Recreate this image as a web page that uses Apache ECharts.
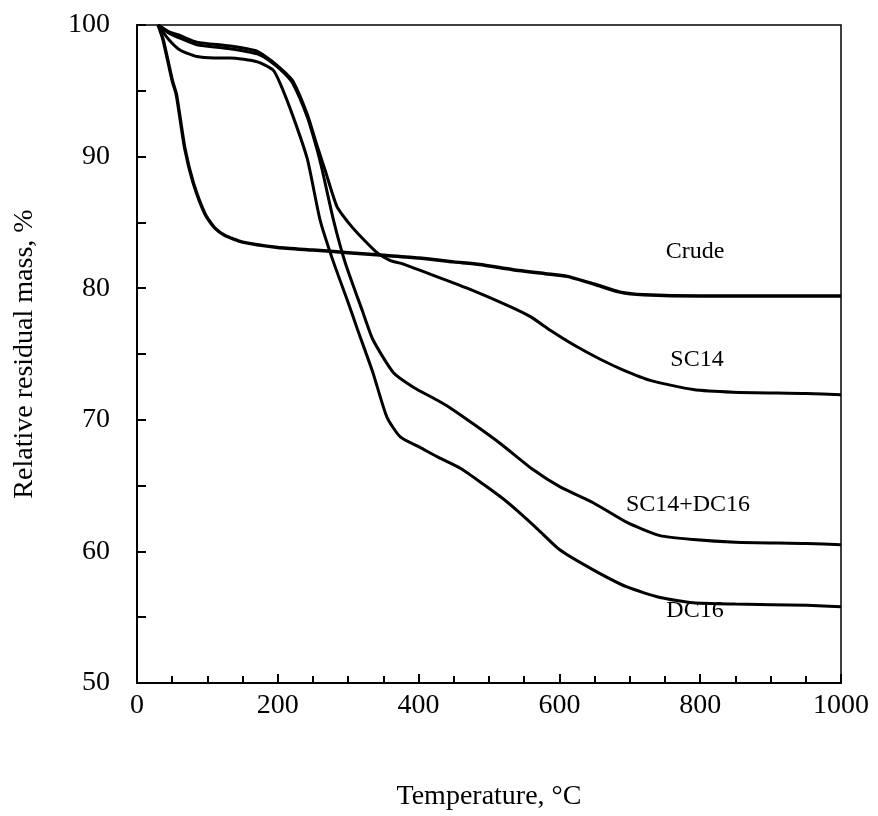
<!DOCTYPE html>
<html>
<head>
<meta charset="utf-8">
<script src="https://cdn.jsdelivr.net/npm/echarts@6/dist/echarts.min.js"></script>
<style>html,body{margin:0;padding:0;background:#fff}#c{width:878px;height:816px}</style>
</head>
<body>
<div id="c"></div>
<script>
// Data (temperature °C, relative residual mass %)
var crudeT = [30, 37, 50, 56, 68, 80, 97, 110, 125, 150, 200, 250, 300, 350, 400, 450, 487, 534, 580, 611, 650, 686, 720, 800, 900, 1000];
var crudeM = [100, 98.9, 95.8, 94.7, 90.6, 88.0, 85.6, 84.6, 84.0, 83.5, 83.1, 82.9, 82.7, 82.5, 82.3, 82.0, 81.8, 81.4, 81.1, 80.9, 80.3, 79.7, 79.5, 79.4, 79.4, 79.4];

var sc14T = [30, 45, 61, 85, 132, 171, 193, 210, 222, 242, 256, 267, 284, 300, 313, 341, 360, 374, 420, 469, 530, 560, 587, 620, 658, 690, 729, 790, 847, 950, 1000];
var sc14M = [100, 99.5, 99.2, 98.7, 98.4, 98.0, 97.2, 96.4, 95.7, 93.2, 90.8, 89.0, 86.2, 85.0, 84.2, 82.7, 82.1, 81.9, 81.0, 80.0, 78.6, 77.8, 76.8, 75.7, 74.6, 73.8, 73.0, 72.3, 72.1, 72.0, 71.9];

var mixT = [30, 45, 61, 85, 132, 171, 193, 210, 222, 242, 256, 263, 279, 296, 320, 335, 364, 392, 426, 445, 480, 516, 563, 601, 648, 696, 743, 790, 850, 952, 1000];
var mixM = [100, 99.4, 99.0, 98.5, 98.2, 97.8, 97.1, 96.3, 95.5, 93.0, 90.5, 89.0, 85.2, 81.9, 78.3, 76.1, 73.6, 72.5, 71.5, 70.9, 69.6, 68.2, 66.2, 64.9, 63.7, 62.2, 61.2, 60.9, 60.7, 60.6, 60.5];

var dc16T = [30, 45, 61, 85, 110, 132, 171, 193, 203, 222, 242, 260, 279, 300, 313, 335, 355, 374, 402, 426, 460, 492, 520, 540, 569, 601, 648, 696, 743, 790, 850, 952, 1000];
var dc16M = [100, 98.9, 98.1, 97.6, 97.5, 97.5, 97.2, 96.6, 95.6, 93.0, 89.8, 85.2, 82.0, 78.9, 76.9, 73.6, 70.2, 68.7, 67.9, 67.2, 66.3, 65.1, 64.0, 63.1, 61.7, 60.1, 58.6, 57.3, 56.5, 56.1, 56.0, 55.9, 55.8];

var seriesNames = ['Crude', 'SC14', 'SC14+DC16', 'DC16'];
var xTicks = [0, 200, 400, 600, 800, 1000];
var yTicks = [50, 60, 70, 80, 90, 100];

function pairs(t, m) { return t.map(function (v, i) { return [v, m[i]]; }); }

var font = '"Liberation Serif", "Times New Roman", serif';
var chart = echarts.init(document.getElementById('c'));

function mkSeries(name, t, m, w) {
  return {
    name: name, type: 'line', data: pairs(t, m), showSymbol: false,
    smooth: 0.2,
    lineStyle: { color: '#000', width: w }, silent: true, animation: false
  };
}

chart.setOption({
  animation: false,
  grid: { left: 137, right: 37, top: 25, bottom: 133, show: true, borderColor: '#000', borderWidth: 1.5, backgroundColor: 'transparent' },
  xAxis: {
    type: 'value', min: xTicks[0], max: xTicks[xTicks.length - 1], interval: 200,
    name: 'Temperature, \u00B0C', nameLocation: 'middle', nameGap: 100,
    nameTextStyle: { fontFamily: font, fontSize: 28, color: '#000' },
    axisLine: { show: true, lineStyle: { color: '#000', width: 2 } },
    axisTick: { show: true, inside: true, length: 9, lineStyle: { color: '#000', width: 2 } },
    minorTick: { show: true, splitNumber: 4, length: 7, lineStyle: { color: '#000', width: 2 } },
    axisLabel: { fontFamily: font, fontSize: 28, color: '#000', margin: 9, formatter: function (v) { return String(v); } },
    splitLine: { show: false }
  },
  yAxis: {
    type: 'value', min: yTicks[0], max: yTicks[yTicks.length - 1], interval: 10,
    name: 'Relative residual mass, %', nameLocation: 'middle', nameGap: 98, nameRotate: 90,
    nameTextStyle: { fontFamily: font, fontSize: 28, color: '#000' },
    axisLine: { show: true, lineStyle: { color: '#000', width: 2 } },
    axisTick: { show: true, inside: true, length: 9, lineStyle: { color: '#000', width: 2 } },
    minorTick: { show: true, splitNumber: 2, length: 9, lineStyle: { color: '#000', width: 2 } },
    axisLabel: { fontFamily: font, fontSize: 28, color: '#000', margin: 27, formatter: function (v) { return String(v); } },
    splitLine: { show: false }
  },
  series: [
    mkSeries(seriesNames[0], crudeT, crudeM, 3.5),
    mkSeries(seriesNames[1], sc14T, sc14M, 3),
    mkSeries(seriesNames[2], mixT, mixM, 3),
    mkSeries(seriesNames[3], dc16T, dc16M, 3)
  ],
  graphic: [
    { type: 'text', x: 695, y: 252, style: { text: seriesNames[0], font: '24px ' + font, fill: '#000', align: 'center', verticalAlign: 'middle' } },
    { type: 'text', x: 697, y: 360, style: { text: seriesNames[1], font: '24px ' + font, fill: '#000', align: 'center', verticalAlign: 'middle' } },
    { type: 'text', x: 688, y: 505, style: { text: seriesNames[2], font: '24px ' + font, fill: '#000', align: 'center', verticalAlign: 'middle' } },
    { type: 'text', x: 695, y: 611, style: { text: seriesNames[3], font: '24px ' + font, fill: '#000', align: 'center', verticalAlign: 'middle' } }
  ]
});
</script>
</body>
</html>
